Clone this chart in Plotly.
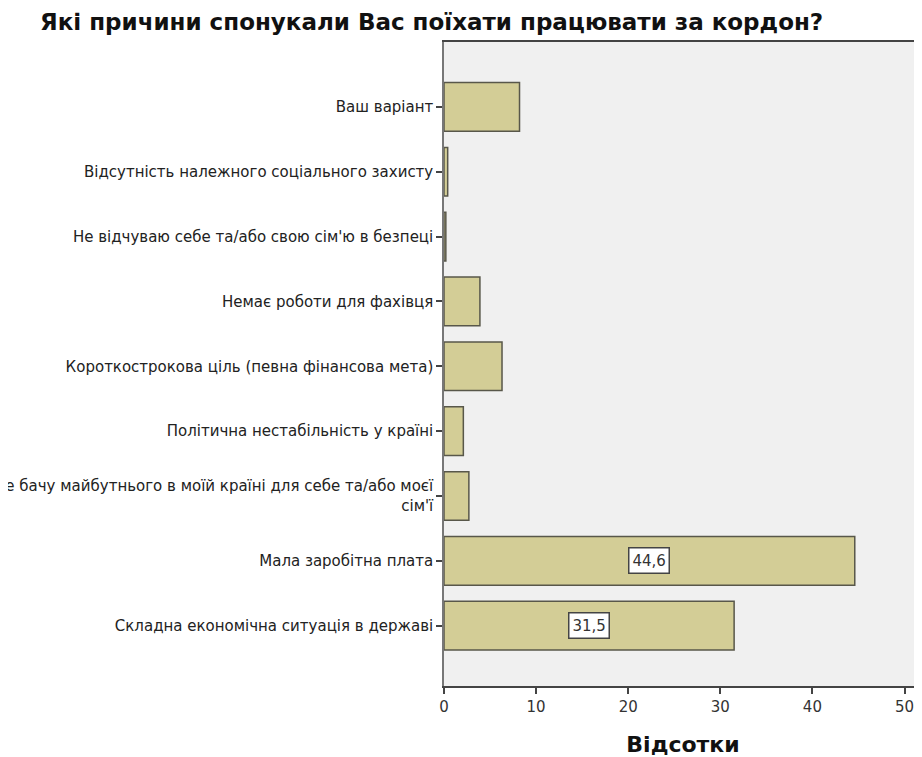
import plotly.graph_objects as go

categories = [
    "Ваш варіант",
    "Відсутність належного соціального захисту",
    "Не відчуваю себе та/або свою сім'ю в безпеці",
    "Немає роботи для фахівця",
    "Короткострокова ціль (певна фінансова мета)",
    "Політична нестабільність у країні",
    "Не бачу майбутнього в моїй країні для себе та/або моєї<br>сім'ї",
    "Мала заробітна плата",
    "Складна економічна ситуація в державі",
]
values = [8.2, 0.4, 0.2, 3.9, 6.3, 2.1, 2.7, 44.6, 31.5]
labeled = [False, False, False, False, False, False, False, True, True]
x_ticks = [0, 10, 20, 30, 40, 50]

FONT = "DejaVu Sans, Verdana, sans-serif"

fig = go.Figure()
fig.add_trace(go.Bar(
    x=values,
    y=list(range(len(categories))),
    orientation="h",
    width=0.75,
    marker=dict(color="#D3CD96", line=dict(color="#58574A", width=1.5)),
    hoverinfo="skip",
))

for i, (v, show) in enumerate(zip(values, labeled)):
    if show:
        fig.add_annotation(
            x=v / 2, y=i, xref="x", yref="y",
            text=f"{v:.1f}".replace(".", ","),
            showarrow=False,
            font=dict(family=FONT, size=15, color="#333333"),
            bgcolor="white", bordercolor="#444444", borderwidth=1.5, borderpad=3,
        )

W, H = 914, 749
fig.update_layout(
    width=W, height=H,
    margin=dict(l=436, r=0, t=34, b=71),
    paper_bgcolor="white",
    plot_bgcolor="#F0F0F0",
    showlegend=False,
    separators=", ",
    title=dict(
        text="<b>Які причини спонукали Вас поїхати працювати за кордон?</b>",
        x=32 / W, xanchor="left", y=1 - 14 / H, yanchor="middle",
        font=dict(family=FONT, size=23, color="#111111"),
    ),
    font=dict(family=FONT, color="#222222"),
)

fig.update_xaxes(
    range=[0, 51.9],
    automargin=False,
    tickvals=x_ticks,
    ticktext=[str(t) for t in x_ticks],
    ticks="outside", ticklen=6, tickwidth=1.5, tickcolor="#444444",
    showline=True, linecolor="#444444", linewidth=1.5, mirror=True,
    showgrid=False, zeroline=False,
    tickfont=dict(family=FONT, size=15, color="#333333"),
    title=dict(text="<b>Відсотки</b>", font=dict(family=FONT, size=22, color="#111111"), standoff=22),
)
fig.update_yaxes(
    range=[8.93, -1.0],
    automargin=False,
    tickvals=list(range(len(categories))),
    ticktext=categories,
    ticks="outside", ticklen=6, tickwidth=1.5, tickcolor="#444444",
    showline=True, linecolor="#777777", linewidth=1.5,
    showgrid=False, zeroline=False,
    tickfont=dict(family=FONT, size=15, color="#222222"),
)

fig.write_html("out.html")
